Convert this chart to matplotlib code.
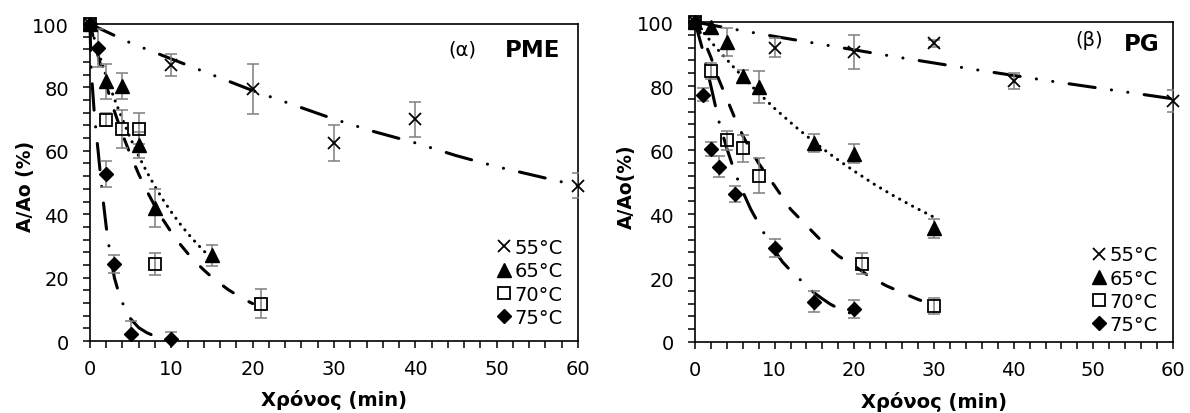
import matplotlib
matplotlib.use("Agg")
import matplotlib.pyplot as plt
from matplotlib.ticker import MultipleLocator
from matplotlib.lines import Line2D

plt.rcParams['font.family'] = ['DejaVu Sans']
plt.rcParams['lines.scale_dashes'] = False

temps = ['55°C', '65°C', '70°C', '75°C']

# ---------------- PME (α) measured data ----------------
pme_x55 = [0, 10, 20, 30, 40, 60]
pme_y55 = [100, 87, 79.5, 62.5, 70, 49]
pme_e55 = [0, 3.5, 7.8, 5.7, 5.5, 4]

pme_x65 = [0, 2, 4, 6, 8, 15]
pme_y65 = [100, 82, 80.5, 61.8, 42, 27]
pme_e65 = [0, 5.5, 4, 4, 6, 3.3]

pme_x70 = [0, 2, 4, 6, 8, 21]
pme_y70 = [100, 69.8, 67, 67, 24.3, 11.8]
pme_e70 = [0, 2, 6, 5, 3.4, 4.5]

pme_x75 = [0, 1, 2, 3, 5, 10]
pme_y75 = [100, 92.5, 52.7, 24.4, 2.2, 0.6]
pme_e75 = [0, 6, 4.2, 2.8, 4, 2.3]

# PME fitted curves
pme_fx55 = [0, 5, 10, 15, 20, 25, 30, 35, 40, 45, 50, 55, 60]
pme_fy55 = [100, 94, 89, 84, 79, 74.5, 70, 66, 62.5, 58.5, 55, 52, 49]
pme_fx65 = [0, 1, 2, 3, 4, 5, 6, 7, 8, 9, 10, 11, 12, 13, 14, 15]
pme_fy65 = [100, 91.4, 83.5, 76.4, 69.9, 63.8, 58.3, 53.3, 48.7, 44.5, 40.7, 37.2, 34, 31.1, 28.4, 26]
pme_fx70 = [0, 1, 2, 3, 4, 5, 6, 7, 8, 9, 10, 11, 12, 13, 14, 15, 16, 17, 18, 19, 20]
pme_fy70 = [100, 89.9, 80.7, 72.5, 65.2, 58.6, 52.6, 47.3, 42.5, 38.2, 34.3, 30.8, 27.7, 24.9, 22.4, 20.1, 18.1, 16.2, 14.6, 13.1, 11.8]
pme_fx75 = [0, 0.1, 0.25, 0.5, 0.75, 1.0, 1.5, 2.0, 2.5, 3.0, 3.5, 4.0, 5.0, 6.0, 7.0, 8.0, 9.5]
pme_fy75 = [100, 90, 82, 73, 66, 60, 47, 36, 27, 20, 15.5, 12, 7, 4.2, 2.6, 1.5, 0.6]

# ---------------- PG (β) measured data ----------------
pg_x55 = [0, 10, 20, 30, 40, 60]
pg_y55 = [100, 92, 90.5, 93.3, 81.7, 75.4]
pg_e55 = [0, 3, 5.3, 1, 2.5, 3.4]

pg_x65 = [0, 2, 4, 6, 8, 15, 20, 30]
pg_y65 = [100, 98.3, 93.8, 83, 79.6, 62.2, 58.8, 35.5]
pg_e65 = [0, 2, 4.3, 2, 5, 2.8, 3, 2.9]

pg_x70 = [0, 2, 4, 6, 8, 21, 30]
pg_y70 = [100, 84.6, 63, 60.5, 52, 24.4, 11.3]
pg_e70 = [0, 2.5, 3, 4.2, 5.5, 3.3, 2.6]

pg_x75 = [0, 1, 2, 3, 5, 10, 15, 20]
pg_y75 = [100, 77.3, 60.3, 54.8, 46.3, 29.5, 12.6, 10.4]
pg_e75 = [0, 2, 2.2, 3.3, 2.5, 2.8, 3.3, 2.8]

# PG fitted curves
pg_fx55 = [0, 5, 10, 15, 20, 25, 30, 35, 40, 45, 50, 55, 60]
pg_fy55 = [100, 97.7, 95.5, 93.4, 91.3, 89.2, 87.2, 85.2, 83.3, 81.4, 79.6, 77.8, 76.0]
pg_fx65 = [0, 2.5, 5, 7.5, 10, 12.5, 15, 17.5, 20, 22.5, 25, 27.5, 30]
pg_fy65 = [100, 92.4, 85.5, 79, 73, 67.5, 62.4, 57.7, 53.4, 49.3, 45.6, 42.2, 39]
pg_fx70 = [0, 1, 2, 3, 4, 5, 6, 7, 8, 10, 12, 14, 16, 18, 20, 22, 24, 26, 28, 30]
pg_fy70 = [100, 95, 89, 82, 76, 70, 64.5, 60, 55.8, 48.8, 41.5, 36.4, 31.3, 26.9, 23.8, 20.3, 17.6, 15.4, 13.3, 11.5]
pg_fx75 = [0, 1, 2, 3, 4, 5, 6, 7, 8, 9, 10, 11, 12, 13, 14, 15, 16, 17, 18, 19.5]
pg_fy75 = [100, 91, 80, 69, 60.5, 53, 47, 41.5, 37, 32.5, 28.5, 25, 22.3, 20, 17.5, 15.3, 13.5, 11.8, 10.5, 9]

# ---------------- styles ----------------
LW = 2.2
line_styles = [
    (0, (19, 11.8, 0.1, 11.8, 0.1, 11.8)),  # 55: dash-dot-dot
    (0, (0.1, 5.2)),                        # 65: dotted
    (0, (8.6, 13)),                         # 70: dashed
    (0, (19, 12, 0.1, 12)),                 # 75: long dash-dot
]
markers = [
    dict(marker='x', ms=8.6, mew=1.3, mec='black', mfc='black'),
    dict(marker='^', ms=10.5, mew=1.0, mec='black', mfc='black'),
    dict(marker='s', ms=9, mew=1.3, mec='black', mfc='none'),
    dict(marker='D', ms=7, mew=1.0, mec='black', mfc='black'),
]
ERR_COLOR = '#7f7f7f'

fig = plt.figure(figsize=(11.9, 4.14), dpi=100)
axL = fig.add_axes([0.0756, 0.1739, 0.4101, 0.7657])
axR = fig.add_axes([0.5840, 0.1715, 0.4017, 0.7729])


def draw_panel(ax, pts, fits, tag, name, tag_pos, name_pos, ylabel, ylab_x,
               leg_y):
    for i, ((fx, fy), (x, y, e)) in enumerate(zip(fits, pts)):
        ax.plot(fx, fy, color='black', lw=LW, ls=line_styles[i],
                dash_capstyle='round', solid_capstyle='round', zorder=2,
                clip_on=False)
        ax.errorbar(x, y, yerr=e, fmt='none', ecolor=ERR_COLOR, elinewidth=1.1,
                    capsize=4.3, capthick=1.1, zorder=3)
        ax.plot(x, y, ls='none', zorder=4, clip_on=False, **markers[i])
    ax.set_xlim(0, 60)
    ax.set_ylim(0, 100)
    ax.xaxis.set_major_locator(MultipleLocator(10))
    ax.xaxis.set_minor_locator(MultipleLocator(2))
    ax.yaxis.set_major_locator(MultipleLocator(20))
    ax.yaxis.set_minor_locator(MultipleLocator(4))
    ax.tick_params(which='both', direction='out', length=5, width=1.1,
                   colors='black')
    ax.tick_params(axis='x', which='major', labelsize=14, pad=8)
    ax.tick_params(axis='y', which='major', labelsize=14, pad=10)
    for sp in ax.spines.values():
        sp.set_linewidth(1.2)
        sp.set_color('black')
    ax.text(tag_pos[0], tag_pos[1], tag, transform=ax.transAxes, fontsize=14,
            ha='center', va='center')
    ax.text(name_pos[0], name_pos[1], name, transform=ax.transAxes,
            fontsize=16.5, fontweight='bold', ha='center', va='center')
    ax.text(0.5, -0.183, 'Χρόνος (min)', transform=ax.transAxes, fontsize=14,
            fontweight='bold', ha='center', va='center')
    ax.text(ylab_x, 0.49, ylabel, transform=ax.transAxes, fontsize=13.5,
            fontweight='bold', ha='center', va='center', rotation=90)
    handles = [Line2D([], [], ls='none', **markers[i]) for i in range(4)]
    ax.legend(handles, temps, loc='lower right', bbox_to_anchor=(0.985, leg_y),
              frameon=False, fontsize=14, handlelength=0.8, handletextpad=0.15,
              labelspacing=0.22, borderpad=0.2, borderaxespad=0.2)


draw_panel(axL,
           [(pme_x55, pme_y55, pme_e55), (pme_x65, pme_y65, pme_e65),
            (pme_x70, pme_y70, pme_e70), (pme_x75, pme_y75, pme_e75)],
           [(pme_fx55, pme_fy55), (pme_fx65, pme_fy65),
            (pme_fx70, pme_fy70), (pme_fx75, pme_fy75)],
           '(α)', 'PME', (0.764, 0.921), (0.906, 0.921), 'A/Ao (%)', -0.133,
           0.02)

draw_panel(axR,
           [(pg_x55, pg_y55, pg_e55), (pg_x65, pg_y65, pg_e65),
            (pg_x70, pg_y70, pg_e70), (pg_x75, pg_y75, pg_e75)],
           [(pg_fx55, pg_fy55), (pg_fx65, pg_fy65),
            (pg_fx70, pg_fy70), (pg_fx75, pg_fy75)],
           '(β)', 'PG', (0.824, 0.944), (0.935, 0.934), 'A/Ao(%)', -0.144,
           0.0)

fig.savefig('out.png', dpi=100)
